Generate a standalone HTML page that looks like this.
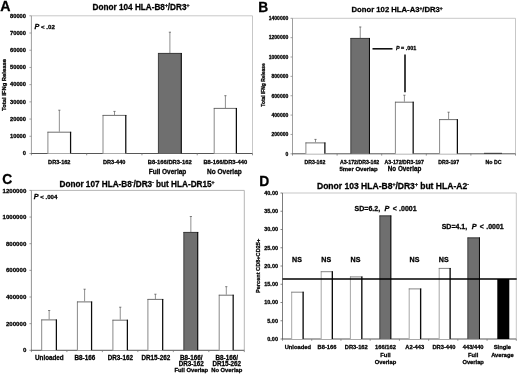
<!DOCTYPE html>
<html><head><meta charset="utf-8"><title>Figure</title>
<style>
html,body{margin:0;padding:0;background:#fff;}
svg{display:block;font-family:"Liberation Sans", sans-serif;font-weight:bold;}
text{stroke:#000;stroke-width:0.28px;fill:#000;}
</style></head>
<body>
<svg width="520" height="376" viewBox="0 0 520 376">
<rect width="520" height="376" fill="#fff"/>
<g style="filter:blur(0.3px)">
<path d="M31.4 15.8H252.5V153.5" fill="none" stroke="#bdbdbd" stroke-width="0.85"/>
<path d="M31.4 15.8V153.5" fill="none" stroke="#8c8c8c" stroke-width="0.85"/>
<path d="M31.0 153.5H252.5" fill="none" stroke="#444" stroke-width="0.9"/>
<line x1="29.4" y1="153.5" x2="31.4" y2="153.5" stroke="#8c8c8c" stroke-width="0.8"/>
<line x1="29.4" y1="136.2875" x2="31.4" y2="136.2875" stroke="#8c8c8c" stroke-width="0.8"/>
<line x1="29.4" y1="119.075" x2="31.4" y2="119.075" stroke="#8c8c8c" stroke-width="0.8"/>
<line x1="29.4" y1="101.86250000000001" x2="31.4" y2="101.86250000000001" stroke="#8c8c8c" stroke-width="0.8"/>
<line x1="29.4" y1="84.65" x2="31.4" y2="84.65" stroke="#8c8c8c" stroke-width="0.8"/>
<line x1="29.4" y1="67.4375" x2="31.4" y2="67.4375" stroke="#8c8c8c" stroke-width="0.8"/>
<line x1="29.4" y1="50.22500000000001" x2="31.4" y2="50.22500000000001" stroke="#8c8c8c" stroke-width="0.8"/>
<line x1="29.4" y1="33.01250000000002" x2="31.4" y2="33.01250000000002" stroke="#8c8c8c" stroke-width="0.8"/>
<line x1="29.4" y1="15.800000000000011" x2="31.4" y2="15.800000000000011" stroke="#8c8c8c" stroke-width="0.8"/>
<line x1="31.4" y1="153.5" x2="31.4" y2="155.3" stroke="#777" stroke-width="0.8"/>
<line x1="86.675" y1="153.5" x2="86.675" y2="155.3" stroke="#777" stroke-width="0.8"/>
<line x1="141.95" y1="153.5" x2="141.95" y2="155.3" stroke="#777" stroke-width="0.8"/>
<line x1="197.225" y1="153.5" x2="197.225" y2="155.3" stroke="#777" stroke-width="0.8"/>
<line x1="252.5" y1="153.5" x2="252.5" y2="155.3" stroke="#777" stroke-width="0.8"/>
<text x="26" y="155.2" font-size="5.6" text-anchor="end" textLength="3.20" lengthAdjust="spacingAndGlyphs">0</text>
<text x="26" y="137.98749999999998" font-size="5.6" text-anchor="end" textLength="16.00" lengthAdjust="spacingAndGlyphs">10000</text>
<text x="26" y="120.775" font-size="5.6" text-anchor="end" textLength="16.00" lengthAdjust="spacingAndGlyphs">20000</text>
<text x="26" y="103.56250000000001" font-size="5.6" text-anchor="end" textLength="16.00" lengthAdjust="spacingAndGlyphs">30000</text>
<text x="26" y="86.35000000000001" font-size="5.6" text-anchor="end" textLength="16.00" lengthAdjust="spacingAndGlyphs">40000</text>
<text x="26" y="69.1375" font-size="5.6" text-anchor="end" textLength="16.00" lengthAdjust="spacingAndGlyphs">50000</text>
<text x="26" y="51.92500000000001" font-size="5.6" text-anchor="end" textLength="16.00" lengthAdjust="spacingAndGlyphs">60000</text>
<text x="26" y="34.71250000000002" font-size="5.6" text-anchor="end" textLength="16.00" lengthAdjust="spacingAndGlyphs">70000</text>
<text x="26" y="17.50000000000001" font-size="5.6" text-anchor="end" textLength="16.00" lengthAdjust="spacingAndGlyphs">80000</text>
<text x="0.3" y="11.3" font-size="14.2" text-anchor="start" fill="#000" >A</text>
<text x="141" y="9.8" font-size="8.2" text-anchor="middle" fill="#000" >Donor 104 HLA-B8<tspan font-size="5" dy="-2.7">+</tspan><tspan dy="2.7">/DR3</tspan><tspan font-size="5" dy="-2.7">+</tspan></text>
<text x="34.6" y="28.6" font-size="6.1" text-anchor="start" fill="#000" ><tspan font-style="italic" font-size="7.2">P</tspan> &lt; .02</text>
<text transform="translate(6.2 85) rotate(-90)" font-size="5.6" textLength="52" lengthAdjust="spacingAndGlyphs" text-anchor="middle" fill="#111">Total IFNg Release</text>
<line x1="59.35" y1="110" x2="59.35" y2="131.8" stroke="#7c7c7c" stroke-width="0.85"/>
<line x1="58.25" y1="110.2" x2="60.45" y2="110.2" stroke="#666" stroke-width="0.8"/>
<rect x="47.5" y="131.8" width="23.700000000000003" height="21.69999999999999" fill="#fff"/>
<line x1="47.9" y1="131.8" x2="47.9" y2="153.5" stroke="#6a6a6a" stroke-width="0.8"/>
<line x1="47.5" y1="132.20000000000002" x2="71.2" y2="132.20000000000002" stroke="#555" stroke-width="0.85"/>
<line x1="70.575" y1="131.8" x2="70.575" y2="153.5" stroke="#0c0c0c" stroke-width="1.25"/>
<line x1="114.5" y1="111.2" x2="114.5" y2="115" stroke="#7c7c7c" stroke-width="0.85"/>
<line x1="113.4" y1="111.4" x2="115.6" y2="111.4" stroke="#666" stroke-width="0.8"/>
<rect x="102.6" y="115" width="23.80000000000001" height="38.5" fill="#fff"/>
<line x1="103.0" y1="115" x2="103.0" y2="153.5" stroke="#6a6a6a" stroke-width="0.8"/>
<line x1="102.6" y1="115.4" x2="126.4" y2="115.4" stroke="#555" stroke-width="0.85"/>
<line x1="125.775" y1="115" x2="125.775" y2="153.5" stroke="#0c0c0c" stroke-width="1.25"/>
<line x1="169.9" y1="32" x2="169.9" y2="53" stroke="#7c7c7c" stroke-width="0.85"/>
<line x1="168.8" y1="32.2" x2="171.0" y2="32.2" stroke="#666" stroke-width="0.8"/>
<rect x="158" y="53" width="23.80000000000001" height="100.5" fill="#6f6f6f"/>
<line x1="158.4" y1="53" x2="158.4" y2="153.5" stroke="#3a3a3a" stroke-width="0.8"/>
<line x1="158" y1="53.4" x2="181.8" y2="53.4" stroke="#333" stroke-width="0.85"/>
<line x1="181.275" y1="53" x2="181.275" y2="153.5" stroke="#0c0c0c" stroke-width="1.05"/>
<line x1="225.4" y1="95.5" x2="225.4" y2="108" stroke="#7c7c7c" stroke-width="0.85"/>
<line x1="224.3" y1="95.7" x2="226.5" y2="95.7" stroke="#666" stroke-width="0.8"/>
<rect x="213.8" y="108" width="23.19999999999999" height="45.5" fill="#fff"/>
<line x1="214.20000000000002" y1="108" x2="214.20000000000002" y2="153.5" stroke="#6a6a6a" stroke-width="0.8"/>
<line x1="213.8" y1="108.4" x2="237" y2="108.4" stroke="#555" stroke-width="0.85"/>
<line x1="236.375" y1="108" x2="236.375" y2="153.5" stroke="#0c0c0c" stroke-width="1.25"/>
<text x="59.3" y="164" font-size="5.6" text-anchor="middle" fill="#000" >DR3-162</text>
<text x="114.2" y="164" font-size="5.6" text-anchor="middle" fill="#000" >DR3-440</text>
<text x="169.7" y="164" font-size="5.8" text-anchor="middle" fill="#000" >B8-166/DR3-162</text>
<text x="225.3" y="164" font-size="5.8" text-anchor="middle" fill="#000" >B8-166/DR3-440</text>
<text x="167.5" y="173.8" font-size="6.5" text-anchor="middle" fill="#000" >Full Overlap</text>
<text x="224.4" y="173.8" font-size="6.5" text-anchor="middle" fill="#000" >No Overlap</text>
<path d="M292.5 18.3H515.5V153.8" fill="none" stroke="#bdbdbd" stroke-width="0.85"/>
<path d="M292.5 18.3V153.8" fill="none" stroke="#8c8c8c" stroke-width="0.85"/>
<path d="M292.1 153.8H515.5" fill="none" stroke="#444" stroke-width="0.9"/>
<line x1="290.5" y1="153.8" x2="292.5" y2="153.8" stroke="#8c8c8c" stroke-width="0.8"/>
<line x1="290.5" y1="134.44285714285715" x2="292.5" y2="134.44285714285715" stroke="#8c8c8c" stroke-width="0.8"/>
<line x1="290.5" y1="115.08571428571429" x2="292.5" y2="115.08571428571429" stroke="#8c8c8c" stroke-width="0.8"/>
<line x1="290.5" y1="95.72857142857144" x2="292.5" y2="95.72857142857144" stroke="#8c8c8c" stroke-width="0.8"/>
<line x1="290.5" y1="76.37142857142858" x2="292.5" y2="76.37142857142858" stroke="#8c8c8c" stroke-width="0.8"/>
<line x1="290.5" y1="57.01428571428572" x2="292.5" y2="57.01428571428572" stroke="#8c8c8c" stroke-width="0.8"/>
<line x1="290.5" y1="37.65714285714287" x2="292.5" y2="37.65714285714287" stroke="#8c8c8c" stroke-width="0.8"/>
<line x1="290.5" y1="18.30000000000001" x2="292.5" y2="18.30000000000001" stroke="#8c8c8c" stroke-width="0.8"/>
<line x1="292.5" y1="153.8" x2="292.5" y2="155.60000000000002" stroke="#777" stroke-width="0.8"/>
<line x1="337.1" y1="153.8" x2="337.1" y2="155.60000000000002" stroke="#777" stroke-width="0.8"/>
<line x1="381.7" y1="153.8" x2="381.7" y2="155.60000000000002" stroke="#777" stroke-width="0.8"/>
<line x1="426.3" y1="153.8" x2="426.3" y2="155.60000000000002" stroke="#777" stroke-width="0.8"/>
<line x1="470.9" y1="153.8" x2="470.9" y2="155.60000000000002" stroke="#777" stroke-width="0.8"/>
<line x1="515.5" y1="153.8" x2="515.5" y2="155.60000000000002" stroke="#777" stroke-width="0.8"/>
<text x="288.3" y="155.60000000000002" font-size="5.3" text-anchor="end" textLength="2.80" lengthAdjust="spacingAndGlyphs">0</text>
<text x="288.3" y="136.24285714285716" font-size="5.3" text-anchor="end" textLength="16.80" lengthAdjust="spacingAndGlyphs">200000</text>
<text x="288.3" y="116.88571428571429" font-size="5.3" text-anchor="end" textLength="16.80" lengthAdjust="spacingAndGlyphs">400000</text>
<text x="288.3" y="97.52857142857144" font-size="5.3" text-anchor="end" textLength="16.80" lengthAdjust="spacingAndGlyphs">600000</text>
<text x="288.3" y="78.17142857142858" font-size="5.3" text-anchor="end" textLength="16.80" lengthAdjust="spacingAndGlyphs">800000</text>
<text x="288.3" y="58.81428571428572" font-size="5.3" text-anchor="end" textLength="19.60" lengthAdjust="spacingAndGlyphs">1000000</text>
<text x="288.3" y="39.45714285714287" font-size="5.3" text-anchor="end" textLength="19.60" lengthAdjust="spacingAndGlyphs">1200000</text>
<text x="288.3" y="20.100000000000012" font-size="5.3" text-anchor="end" textLength="19.60" lengthAdjust="spacingAndGlyphs">1400000</text>
<text x="258.3" y="11.7" font-size="13.8" text-anchor="start" fill="#000" >B</text>
<text x="397.1" y="12.1" font-size="7.7" text-anchor="middle" fill="#000" >Donor 102 HLA-A3<tspan font-size="4.8" dy="-2.6">+</tspan><tspan dy="2.6">/DR3</tspan><tspan font-size="4.8" dy="-2.6">+</tspan></text>
<text transform="translate(265 85) rotate(-90)" font-size="4.9" text-anchor="middle" fill="#111">Total IFNg Release</text>
<line x1="315.5" y1="139.2" x2="315.5" y2="142.5" stroke="#7c7c7c" stroke-width="0.85"/>
<line x1="314.4" y1="139.39999999999998" x2="316.6" y2="139.39999999999998" stroke="#666" stroke-width="0.8"/>
<rect x="305.5" y="142.5" width="20.0" height="11.300000000000011" fill="#fff"/>
<line x1="305.9" y1="142.5" x2="305.9" y2="153.8" stroke="#6a6a6a" stroke-width="0.8"/>
<line x1="305.5" y1="142.9" x2="325.5" y2="142.9" stroke="#555" stroke-width="0.85"/>
<line x1="324.875" y1="142.5" x2="324.875" y2="153.8" stroke="#0c0c0c" stroke-width="1.25"/>
<line x1="360.25" y1="26.8" x2="360.25" y2="38" stroke="#7c7c7c" stroke-width="0.85"/>
<line x1="359.15" y1="27.0" x2="361.35" y2="27.0" stroke="#666" stroke-width="0.8"/>
<rect x="350.5" y="38" width="19.5" height="115.80000000000001" fill="#6f6f6f"/>
<line x1="350.9" y1="38" x2="350.9" y2="153.8" stroke="#3a3a3a" stroke-width="0.8"/>
<line x1="350.5" y1="38.4" x2="370" y2="38.4" stroke="#333" stroke-width="0.85"/>
<line x1="369.475" y1="38" x2="369.475" y2="153.8" stroke="#0c0c0c" stroke-width="1.05"/>
<line x1="404.4" y1="95" x2="404.4" y2="101.8" stroke="#7c7c7c" stroke-width="0.85"/>
<line x1="403.29999999999995" y1="95.2" x2="405.5" y2="95.2" stroke="#666" stroke-width="0.8"/>
<rect x="395" y="101.8" width="18.80000000000001" height="52.000000000000014" fill="#fff"/>
<line x1="395.4" y1="101.8" x2="395.4" y2="153.8" stroke="#6a6a6a" stroke-width="0.8"/>
<line x1="395" y1="102.2" x2="413.8" y2="102.2" stroke="#555" stroke-width="0.85"/>
<line x1="413.175" y1="101.8" x2="413.175" y2="153.8" stroke="#0c0c0c" stroke-width="1.25"/>
<line x1="448.6" y1="112" x2="448.6" y2="119.2" stroke="#7c7c7c" stroke-width="0.85"/>
<line x1="447.5" y1="112.2" x2="449.70000000000005" y2="112.2" stroke="#666" stroke-width="0.8"/>
<rect x="439.2" y="119.2" width="18.80000000000001" height="34.60000000000001" fill="#fff"/>
<line x1="439.59999999999997" y1="119.2" x2="439.59999999999997" y2="153.8" stroke="#6a6a6a" stroke-width="0.8"/>
<line x1="439.2" y1="119.60000000000001" x2="458" y2="119.60000000000001" stroke="#555" stroke-width="0.85"/>
<line x1="457.375" y1="119.2" x2="457.375" y2="153.8" stroke="#0c0c0c" stroke-width="1.25"/>
<line x1="484" y1="153.3" x2="502" y2="153.3" stroke="#222" stroke-width="0.8"/>
<line x1="372.5" y1="48.8" x2="392.5" y2="48.8" stroke="#111" stroke-width="1.6"/>
<line x1="405" y1="54.5" x2="405" y2="92.3" stroke="#111" stroke-width="1.6"/>
<text x="396" y="50" font-size="5.4" text-anchor="start" fill="#000" ><tspan font-style="italic">P</tspan> = .001</text>
<text x="314.9" y="163.8" font-size="5.2" text-anchor="middle" fill="#000" >DR3-162</text>
<text x="359.6" y="163.8" font-size="5.2" text-anchor="middle" fill="#000" >A3-172/DR3-162</text>
<text x="404.2" y="163.8" font-size="5.2" text-anchor="middle" fill="#000" >A3-172/DR3-197</text>
<text x="448.7" y="163.8" font-size="5.2" text-anchor="middle" fill="#000" >DR3-197</text>
<text x="493.5" y="163.8" font-size="5.2" text-anchor="middle" fill="#000" >No DC</text>
<text x="358.6" y="171.0" font-size="6.0" text-anchor="middle" fill="#000" >5mer Overlap</text>
<text x="404.6" y="171.0" font-size="6.3" text-anchor="middle" fill="#000" >No Overlap</text>
<path d="M31.4 190.4H244.3V350.3" fill="none" stroke="#a8a8a8" stroke-width="0.85"/>
<path d="M31.4 190.4V350.3" fill="none" stroke="#808080" stroke-width="0.85"/>
<path d="M31.0 350.3H244.3" fill="none" stroke="#444" stroke-width="0.9"/>
<line x1="29.4" y1="350.3" x2="31.4" y2="350.3" stroke="#808080" stroke-width="0.8"/>
<line x1="29.4" y1="323.65000000000003" x2="31.4" y2="323.65000000000003" stroke="#808080" stroke-width="0.8"/>
<line x1="29.4" y1="297.0" x2="31.4" y2="297.0" stroke="#808080" stroke-width="0.8"/>
<line x1="29.4" y1="270.35" x2="31.4" y2="270.35" stroke="#808080" stroke-width="0.8"/>
<line x1="29.4" y1="243.7" x2="31.4" y2="243.7" stroke="#808080" stroke-width="0.8"/>
<line x1="29.4" y1="217.05" x2="31.4" y2="217.05" stroke="#808080" stroke-width="0.8"/>
<line x1="29.4" y1="190.4" x2="31.4" y2="190.4" stroke="#808080" stroke-width="0.8"/>
<line x1="31.4" y1="350.3" x2="31.4" y2="352.1" stroke="#777" stroke-width="0.8"/>
<line x1="66.88333333333333" y1="350.3" x2="66.88333333333333" y2="352.1" stroke="#777" stroke-width="0.8"/>
<line x1="102.36666666666667" y1="350.3" x2="102.36666666666667" y2="352.1" stroke="#777" stroke-width="0.8"/>
<line x1="137.85" y1="350.3" x2="137.85" y2="352.1" stroke="#777" stroke-width="0.8"/>
<line x1="173.33333333333334" y1="350.3" x2="173.33333333333334" y2="352.1" stroke="#777" stroke-width="0.8"/>
<line x1="208.8166666666667" y1="350.3" x2="208.8166666666667" y2="352.1" stroke="#777" stroke-width="0.8"/>
<line x1="244.3" y1="350.3" x2="244.3" y2="352.1" stroke="#777" stroke-width="0.8"/>
<text x="26.3" y="352.40000000000003" font-size="6.1" text-anchor="end" fill="#000" >0</text>
<text x="26.3" y="325.75000000000006" font-size="6.1" text-anchor="end" fill="#000" >200000</text>
<text x="26.3" y="299.1" font-size="6.1" text-anchor="end" fill="#000" >400000</text>
<text x="26.3" y="272.45000000000005" font-size="6.1" text-anchor="end" fill="#000" >600000</text>
<text x="26.3" y="245.79999999999998" font-size="6.1" text-anchor="end" fill="#000" >800000</text>
<text x="26.3" y="219.15" font-size="6.1" text-anchor="end" fill="#000" >1000000</text>
<text x="26.3" y="192.5" font-size="6.1" text-anchor="end" fill="#000" >1200000</text>
<text x="2.2" y="183.7" font-size="13.8" text-anchor="start" fill="#000" >C</text>
<text x="137" y="186.9" font-size="8.2" text-anchor="middle" fill="#000" >Donor 107 HLA-B8<tspan font-size="5" dy="-2.7">-</tspan><tspan dy="2.7">/DR3</tspan><tspan font-size="5" dy="-2.7">-</tspan><tspan dy="2.7"> but HLA-DR15</tspan><tspan font-size="5" dy="-2.7">+</tspan></text>
<text x="33.8" y="199.2" font-size="6.1" text-anchor="start" fill="#000" ><tspan font-style="italic" font-size="7.2">P</tspan> &lt; .004</text>
<line x1="49.15" y1="310.3" x2="49.15" y2="319.5" stroke="#7c7c7c" stroke-width="0.85"/>
<line x1="48.05" y1="310.5" x2="50.25" y2="310.5" stroke="#666" stroke-width="0.8"/>
<rect x="41.3" y="319.5" width="15.700000000000003" height="30.80000000000001" fill="#fff"/>
<line x1="41.699999999999996" y1="319.5" x2="41.699999999999996" y2="350.3" stroke="#6a6a6a" stroke-width="0.8"/>
<line x1="41.3" y1="319.9" x2="57" y2="319.9" stroke="#555" stroke-width="0.85"/>
<line x1="56.375" y1="319.5" x2="56.375" y2="350.3" stroke="#0c0c0c" stroke-width="1.25"/>
<line x1="84.6" y1="289" x2="84.6" y2="301.5" stroke="#7c7c7c" stroke-width="0.85"/>
<line x1="83.5" y1="289.2" x2="85.69999999999999" y2="289.2" stroke="#666" stroke-width="0.8"/>
<rect x="77" y="301.5" width="15.200000000000003" height="48.80000000000001" fill="#fff"/>
<line x1="77.4" y1="301.5" x2="77.4" y2="350.3" stroke="#6a6a6a" stroke-width="0.8"/>
<line x1="77" y1="301.9" x2="92.2" y2="301.9" stroke="#555" stroke-width="0.85"/>
<line x1="91.575" y1="301.5" x2="91.575" y2="350.3" stroke="#0c0c0c" stroke-width="1.25"/>
<line x1="120.25" y1="307" x2="120.25" y2="319.8" stroke="#7c7c7c" stroke-width="0.85"/>
<line x1="119.15" y1="307.2" x2="121.35" y2="307.2" stroke="#666" stroke-width="0.8"/>
<rect x="112.5" y="319.8" width="15.5" height="30.5" fill="#fff"/>
<line x1="112.9" y1="319.8" x2="112.9" y2="350.3" stroke="#6a6a6a" stroke-width="0.8"/>
<line x1="112.5" y1="320.2" x2="128" y2="320.2" stroke="#555" stroke-width="0.85"/>
<line x1="127.375" y1="319.8" x2="127.375" y2="350.3" stroke="#0c0c0c" stroke-width="1.25"/>
<line x1="155.4" y1="294" x2="155.4" y2="299" stroke="#7c7c7c" stroke-width="0.85"/>
<line x1="154.3" y1="294.2" x2="156.5" y2="294.2" stroke="#666" stroke-width="0.8"/>
<rect x="147.5" y="299" width="15.800000000000011" height="51.30000000000001" fill="#fff"/>
<line x1="147.9" y1="299" x2="147.9" y2="350.3" stroke="#6a6a6a" stroke-width="0.8"/>
<line x1="147.5" y1="299.4" x2="163.3" y2="299.4" stroke="#555" stroke-width="0.85"/>
<line x1="162.675" y1="299" x2="162.675" y2="350.3" stroke="#0c0c0c" stroke-width="1.25"/>
<line x1="190.85" y1="216.3" x2="190.85" y2="232" stroke="#7c7c7c" stroke-width="0.85"/>
<line x1="189.75" y1="216.5" x2="191.95" y2="216.5" stroke="#666" stroke-width="0.8"/>
<rect x="183.5" y="232" width="14.699999999999989" height="118.30000000000001" fill="#6f6f6f"/>
<line x1="183.9" y1="232" x2="183.9" y2="350.3" stroke="#3a3a3a" stroke-width="0.8"/>
<line x1="183.5" y1="232.4" x2="198.2" y2="232.4" stroke="#333" stroke-width="0.85"/>
<line x1="197.67499999999998" y1="232" x2="197.67499999999998" y2="350.3" stroke="#0c0c0c" stroke-width="1.05"/>
<line x1="226.3" y1="286.5" x2="226.3" y2="294.8" stroke="#7c7c7c" stroke-width="0.85"/>
<line x1="225.20000000000002" y1="286.7" x2="227.4" y2="286.7" stroke="#666" stroke-width="0.8"/>
<rect x="218.8" y="294.8" width="15.0" height="55.5" fill="#fff"/>
<line x1="219.20000000000002" y1="294.8" x2="219.20000000000002" y2="350.3" stroke="#6a6a6a" stroke-width="0.8"/>
<line x1="218.8" y1="295.2" x2="233.8" y2="295.2" stroke="#555" stroke-width="0.85"/>
<line x1="233.175" y1="294.8" x2="233.175" y2="350.3" stroke="#0c0c0c" stroke-width="1.25"/>
<text x="49.34166666666667" y="360.3" font-size="6.3" text-anchor="middle" fill="#000" >Unloaded</text>
<text x="84.825" y="360.3" font-size="6.3" text-anchor="middle" fill="#000" >B8-166</text>
<text x="120.30833333333335" y="360.3" font-size="6.3" text-anchor="middle" fill="#000" >DR3-162</text>
<text x="155.79166666666666" y="360.3" font-size="6.3" text-anchor="middle" fill="#000" >DR15-262</text>
<text x="191.275" y="360.3" font-size="6.3" text-anchor="middle" fill="#000" >B8-166/</text>
<text x="191.275" y="366.3" font-size="6.3" text-anchor="middle" fill="#000" >DR3-162</text>
<text x="191.275" y="372.4" font-size="5.85" text-anchor="middle" fill="#000" >Full Overlap</text>
<text x="226.75833333333333" y="360.3" font-size="6.3" text-anchor="middle" fill="#000" >B8-166/</text>
<text x="226.75833333333333" y="366.3" font-size="6.3" text-anchor="middle" fill="#000" >DR15-262</text>
<text x="226.75833333333333" y="372.4" font-size="5.85" text-anchor="middle" fill="#000" >No Overlap</text>
<path d="M282.5 193H516.3V339" fill="none" stroke="#bdbdbd" stroke-width="0.85"/>
<path d="M282.5 193V339" fill="none" stroke="#666" stroke-width="0.85"/>
<path d="M282.1 339H516.3" fill="none" stroke="#444" stroke-width="0.9"/>
<line x1="280.5" y1="339.0" x2="282.5" y2="339.0" stroke="#666" stroke-width="0.8"/>
<line x1="280.5" y1="320.75" x2="282.5" y2="320.75" stroke="#666" stroke-width="0.8"/>
<line x1="280.5" y1="302.5" x2="282.5" y2="302.5" stroke="#666" stroke-width="0.8"/>
<line x1="280.5" y1="284.25" x2="282.5" y2="284.25" stroke="#666" stroke-width="0.8"/>
<line x1="280.5" y1="266.0" x2="282.5" y2="266.0" stroke="#666" stroke-width="0.8"/>
<line x1="280.5" y1="247.75" x2="282.5" y2="247.75" stroke="#666" stroke-width="0.8"/>
<line x1="280.5" y1="229.5" x2="282.5" y2="229.5" stroke="#666" stroke-width="0.8"/>
<line x1="280.5" y1="211.25" x2="282.5" y2="211.25" stroke="#666" stroke-width="0.8"/>
<line x1="280.5" y1="193.0" x2="282.5" y2="193.0" stroke="#666" stroke-width="0.8"/>
<line x1="282.5" y1="339" x2="282.5" y2="340.8" stroke="#777" stroke-width="0.8"/>
<line x1="311.725" y1="339" x2="311.725" y2="340.8" stroke="#777" stroke-width="0.8"/>
<line x1="340.95" y1="339" x2="340.95" y2="340.8" stroke="#777" stroke-width="0.8"/>
<line x1="370.17499999999995" y1="339" x2="370.17499999999995" y2="340.8" stroke="#777" stroke-width="0.8"/>
<line x1="399.4" y1="339" x2="399.4" y2="340.8" stroke="#777" stroke-width="0.8"/>
<line x1="428.625" y1="339" x2="428.625" y2="340.8" stroke="#777" stroke-width="0.8"/>
<line x1="457.84999999999997" y1="339" x2="457.84999999999997" y2="340.8" stroke="#777" stroke-width="0.8"/>
<line x1="487.07499999999993" y1="339" x2="487.07499999999993" y2="340.8" stroke="#777" stroke-width="0.8"/>
<line x1="516.3" y1="339" x2="516.3" y2="340.8" stroke="#777" stroke-width="0.8"/>
<text x="278.0" y="340.9" font-size="5.5" text-anchor="end" fill="#000" >0.00</text>
<text x="278.0" y="322.65" font-size="5.5" text-anchor="end" fill="#000" >5.00</text>
<text x="278.0" y="304.4" font-size="5.5" text-anchor="end" fill="#000" >10.00</text>
<text x="278.0" y="286.15" font-size="5.5" text-anchor="end" fill="#000" >15.00</text>
<text x="278.0" y="267.9" font-size="5.5" text-anchor="end" fill="#000" >20.00</text>
<text x="278.0" y="249.65" font-size="5.5" text-anchor="end" fill="#000" >25.00</text>
<text x="278.0" y="231.4" font-size="5.5" text-anchor="end" fill="#000" >30.00</text>
<text x="278.0" y="213.15" font-size="5.5" text-anchor="end" fill="#000" >35.00</text>
<text x="278.0" y="194.9" font-size="5.5" text-anchor="end" fill="#000" >40.00</text>
<text x="259.3" y="186.1" font-size="13.8" text-anchor="start" fill="#000" >D</text>
<text x="392.9" y="188.9" font-size="8.55" text-anchor="middle" fill="#000" >Donor 103 HLA-B8<tspan font-size="5" dy="-2.7">+</tspan><tspan dy="2.7">/DR3</tspan><tspan font-size="5" dy="-2.7">+</tspan><tspan dy="2.7"> but HLA-A2</tspan><tspan font-size="5" dy="-2.7">-</tspan></text>
<text transform="translate(260 265.9) rotate(-90)" font-size="5.5" textLength="54.2" lengthAdjust="spacingAndGlyphs" text-anchor="middle" fill="#111">Percent CD8+CD25+</text>
<rect x="291.3" y="291.8" width="12.5" height="47.19999999999999" fill="#fff"/>
<line x1="291.7" y1="291.8" x2="291.7" y2="339" stroke="#909090" stroke-width="0.8"/>
<line x1="291.3" y1="292.2" x2="303.8" y2="292.2" stroke="#707070" stroke-width="0.85"/>
<line x1="303.125" y1="291.8" x2="303.125" y2="339" stroke="#0c0c0c" stroke-width="1.35"/>
<rect x="320.8" y="271.3" width="12.199999999999989" height="67.69999999999999" fill="#fff"/>
<line x1="321.2" y1="271.3" x2="321.2" y2="339" stroke="#909090" stroke-width="0.8"/>
<line x1="320.8" y1="271.7" x2="333" y2="271.7" stroke="#707070" stroke-width="0.85"/>
<line x1="332.325" y1="271.3" x2="332.325" y2="339" stroke="#0c0c0c" stroke-width="1.35"/>
<rect x="350" y="276.5" width="12.5" height="62.5" fill="#fff"/>
<line x1="350.4" y1="276.5" x2="350.4" y2="339" stroke="#909090" stroke-width="0.8"/>
<line x1="350" y1="276.9" x2="362.5" y2="276.9" stroke="#707070" stroke-width="0.85"/>
<line x1="361.825" y1="276.5" x2="361.825" y2="339" stroke="#0c0c0c" stroke-width="1.35"/>
<rect x="379.5" y="215.5" width="11.800000000000011" height="123.5" fill="#6f6f6f"/>
<line x1="379.9" y1="215.5" x2="379.9" y2="339" stroke="#3a3a3a" stroke-width="0.8"/>
<line x1="379.5" y1="215.9" x2="391.3" y2="215.9" stroke="#333" stroke-width="0.85"/>
<line x1="390.77500000000003" y1="215.5" x2="390.77500000000003" y2="339" stroke="#0c0c0c" stroke-width="1.05"/>
<rect x="408.8" y="288.5" width="12.5" height="50.5" fill="#fff"/>
<line x1="409.2" y1="288.5" x2="409.2" y2="339" stroke="#909090" stroke-width="0.8"/>
<line x1="408.8" y1="288.9" x2="421.3" y2="288.9" stroke="#707070" stroke-width="0.85"/>
<line x1="420.625" y1="288.5" x2="420.625" y2="339" stroke="#0c0c0c" stroke-width="1.35"/>
<rect x="438.8" y="268" width="12.0" height="71" fill="#fff"/>
<line x1="439.2" y1="268" x2="439.2" y2="339" stroke="#909090" stroke-width="0.8"/>
<line x1="438.8" y1="268.4" x2="450.8" y2="268.4" stroke="#707070" stroke-width="0.85"/>
<line x1="450.125" y1="268" x2="450.125" y2="339" stroke="#0c0c0c" stroke-width="1.35"/>
<rect x="467.5" y="237.5" width="12.5" height="101.5" fill="#6f6f6f"/>
<line x1="467.9" y1="237.5" x2="467.9" y2="339" stroke="#3a3a3a" stroke-width="0.8"/>
<line x1="467.5" y1="237.9" x2="480" y2="237.9" stroke="#333" stroke-width="0.85"/>
<line x1="479.475" y1="237.5" x2="479.475" y2="339" stroke="#0c0c0c" stroke-width="1.05"/>
<rect x="497.3" y="279" width="12" height="60" fill="#000"/>
<line x1="282.5" y1="278.9" x2="516.6999999999999" y2="278.9" stroke="#000" stroke-width="1.5"/>
<text x="297" y="261.5" font-size="7.1" text-anchor="middle" fill="#000" >NS</text>
<text x="326.3" y="261.5" font-size="7.1" text-anchor="middle" fill="#000" >NS</text>
<text x="355.5" y="261.5" font-size="7.1" text-anchor="middle" fill="#000" >NS</text>
<text x="414.5" y="261.5" font-size="7.1" text-anchor="middle" fill="#000" >NS</text>
<text x="443.8" y="261.5" font-size="7.1" text-anchor="middle" fill="#000" >NS</text>
<text x="354.6" y="210.9" font-size="7" text-anchor="start" fill="#000" >SD=6.2,</text>
<text x="384.6" y="210.9" font-size="7.3" text-anchor="start" fill="#000" ><tspan font-style="italic">P</tspan></text>
<text x="392.70000000000005" y="210.9" font-size="7" text-anchor="start" fill="#000" >&lt;</text>
<text x="399.1" y="210.9" font-size="7" text-anchor="start" fill="#000" >.0001</text>
<text x="441.7" y="228.9" font-size="7" text-anchor="start" fill="#000" >SD=4.1,</text>
<text x="471.7" y="228.9" font-size="7.3" text-anchor="start" fill="#000" ><tspan font-style="italic">P</tspan></text>
<text x="479.8" y="228.9" font-size="7" text-anchor="start" fill="#000" >&lt;</text>
<text x="486.2" y="228.9" font-size="7" text-anchor="start" fill="#000" >.0001</text>
<text x="297.8125" y="349.0" font-size="5.75" text-anchor="middle" fill="#000" >Unloaded</text>
<text x="327.03749999999997" y="349.0" font-size="5.75" text-anchor="middle" fill="#000" >B8-166</text>
<text x="356.2625" y="349.0" font-size="5.75" text-anchor="middle" fill="#000" >DR3-162</text>
<text x="385.48749999999995" y="349.0" font-size="5.75" text-anchor="middle" fill="#000" >166/162</text>
<text x="385.48749999999995" y="356.8" font-size="5.75" text-anchor="middle" fill="#000" >Full</text>
<text x="385.48749999999995" y="364.0" font-size="5.75" text-anchor="middle" fill="#000" >Overlap</text>
<text x="414.7125" y="349.0" font-size="5.75" text-anchor="middle" fill="#000" >A2-443</text>
<text x="443.93749999999994" y="349.0" font-size="5.75" text-anchor="middle" fill="#000" >DR3-440</text>
<text x="473.16249999999997" y="349.0" font-size="5.75" text-anchor="middle" fill="#000" >443/440</text>
<text x="473.16249999999997" y="356.8" font-size="5.75" text-anchor="middle" fill="#000" >Full</text>
<text x="473.16249999999997" y="364.0" font-size="5.75" text-anchor="middle" fill="#000" >Overlap</text>
<text x="502.38749999999993" y="349.0" font-size="5.75" text-anchor="middle" fill="#000" >Single</text>
<text x="502.38749999999993" y="356.8" font-size="5.75" text-anchor="middle" fill="#000" >Average</text>
</g>
</svg>
</body></html>
